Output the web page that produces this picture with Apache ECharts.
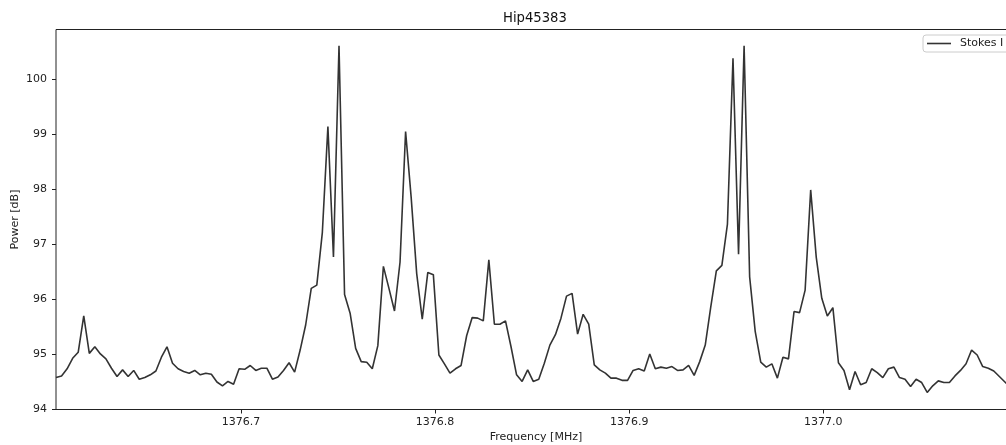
<!DOCTYPE html>
<html>
<head>
<meta charset="utf-8">
<script src="https://cdn.jsdelivr.net/npm/echarts@6/dist/echarts.min.js"></script>
<style>
html,body{margin:0;padding:0;background:#fff;overflow:hidden;width:1006px;height:445px;}
#chart{width:1016px;height:445px;}
</style>
</head>
<body>
<div id="chart"></div>
<script>
const chartTitle = 'Hip45383';
const seriesName = 'Stokes I';
const xAxisName = 'Frequency [MHz]';
const yAxisName = 'Power [dB]';
const xTickValues = [1376.7, 1376.8, 1376.9, 1377.0];
const yTickValues = [94, 95, 96, 97, 98, 99, 100];
const xRange = [1376.60469, 1377.09933];
const yRange = [94, 100.905];

const freqMHz = [
1376.60469,1376.60755,1376.61041,1376.61327,1376.61613,1376.61899,1376.62185,1376.62470,1376.62756,1376.63042,
1376.63328,1376.63614,1376.63900,1376.64186,1376.64472,1376.64758,1376.65044,1376.65330,1376.65616,1376.65901,
1376.66187,1376.66473,1376.66759,1376.67045,1376.67331,1376.67617,1376.67903,1376.68189,1376.68475,1376.68761,
1376.69047,1376.69333,1376.69618,1376.69904,1376.70190,1376.70476,1376.70762,1376.71048,1376.71334,1376.71620,
1376.71906,1376.72192,1376.72478,1376.72764,1376.73049,1376.73335,1376.73621,1376.73907,1376.74193,1376.74479,
1376.74765,1376.75051,1376.75337,1376.75623,1376.75909,1376.76195,1376.76481,1376.76766,1376.77052,1376.77338,
1376.77624,1376.77910,1376.78196,1376.78482,1376.78768,1376.79054,1376.79340,1376.79626,1376.79912,1376.80197,
1376.80483,1376.80769,1376.81055,1376.81341,1376.81627,1376.81913,1376.82199,1376.82485,1376.82771,1376.83057,
1376.83343,1376.83629,1376.83914,1376.84200,1376.84486,1376.84772,1376.85058,1376.85344,1376.85630,1376.85916,
1376.86202,1376.86488,1376.86774,1376.87060,1376.87345,1376.87631,1376.87917,1376.88203,1376.88489,1376.88775,
1376.89061,1376.89347,1376.89633,1376.89919,1376.90205,1376.90491,1376.90777,1376.91062,1376.91348,1376.91634,
1376.91920,1376.92206,1376.92492,1376.92778,1376.93064,1376.93350,1376.93636,1376.93922,1376.94208,1376.94493,
1376.94779,1376.95065,1376.95351,1376.95637,1376.95923,1376.96209,1376.96495,1376.96781,1376.97067,1376.97353,
1376.97639,1376.97925,1376.98210,1376.98496,1376.98782,1376.99068,1376.99354,1376.99640,1376.99926,1377.00212,
1377.00498,1377.00784,1377.01070,1377.01356,1377.01641,1377.01927,1377.02213,1377.02499,1377.02785,1377.03071,
1377.03357,1377.03643,1377.03929,1377.04215,1377.04501,1377.04787,1377.05073,1377.05358,1377.05644,1377.05930,
1377.06216,1377.06502,1377.06788,1377.07074,1377.07360,1377.07646,1377.07932,1377.08218,1377.08504,1377.08789,
1377.09075,1377.09361,1377.09647
];

const powerDb = [
94.58,94.61,94.74,94.93,95.04,95.70,95.02,95.14,95.01,94.92,
94.75,94.60,94.72,94.60,94.71,94.55,94.58,94.63,94.70,94.95,
95.14,94.84,94.74,94.69,94.66,94.71,94.63,94.66,94.64,94.50,
94.43,94.51,94.46,94.74,94.73,94.80,94.71,94.75,94.75,94.55,
94.59,94.71,94.85,94.68,95.08,95.54,96.20,96.26,97.22,99.14,
96.77,100.61,96.09,95.75,95.11,94.87,94.86,94.74,95.16,96.60,
96.20,95.79,96.68,99.05,97.86,96.47,95.64,96.49,96.45,94.99,
94.83,94.66,94.74,94.80,95.34,95.67,95.66,95.61,96.72,95.55,
95.55,95.61,95.14,94.63,94.51,94.72,94.51,94.55,94.84,95.17,
95.36,95.66,96.06,96.11,95.37,95.73,95.55,94.81,94.72,94.66,
94.57,94.57,94.53,94.53,94.71,94.74,94.70,95.01,94.74,94.77,
94.75,94.78,94.71,94.72,94.80,94.62,94.87,95.17,95.87,96.52,
96.62,97.37,100.38,96.82,100.61,96.41,95.42,94.86,94.77,94.83,
94.57,94.95,94.92,95.78,95.76,96.17,97.99,96.77,96.02,95.70,
95.85,94.85,94.71,94.36,94.69,94.45,94.49,94.74,94.67,94.58,
94.74,94.77,94.58,94.55,94.42,94.55,94.49,94.31,94.43,94.52,
94.49,94.49,94.61,94.71,94.83,95.08,94.99,94.78,94.75,94.70,
94.60,94.50,94.40
];

const FONT = 'DejaVu Sans';
const chart = echarts.init(document.getElementById('chart'), null, {renderer: 'canvas'});
const points = freqMHz.map((f, i) => [f, powerDb[i]]);

chart.setOption({
  animation: false,
  backgroundColor: '#ffffff',
  title: {
    text: chartTitle,
    left: 503,
    top: 12,
    padding: 0,
    textStyle: {fontFamily: FONT, fontSize: 13.2, fontWeight: 'normal', color: '#111'}
  },
  legend: {
    data: [seriesName],
    left: 923,
    top: 35,
    padding: [3, 6, 3, 4],
    itemWidth: 24,
    itemHeight: 14,
    icon: 'path://M0,0 L24,0 L24,1.6 L0,1.6 Z',
    symbolKeepAspect: true,
    backgroundColor: 'rgba(255,255,255,0.85)',
    borderColor: '#cccccc',
    borderWidth: 1,
    borderRadius: 3,
    textStyle: {fontFamily: FONT, fontSize: 11, color: '#222', padding: [0, 0, 0, 4]}
  },
  grid: {
    left: 56, right: 0, top: 29.5, bottom: 35.5,
    outerBoundsMode: 'none',
    containLabel: false,
    show: true, borderColor: '#222', borderWidth: 1, backgroundColor: 'transparent'
  },
  xAxis: {
    type: 'value',
    min: xRange[0], max: xRange[1],
    name: xAxisName,
    nameLocation: 'middle',
    nameGap: 22,
    nameMoveOverlap: false,
    nameTextStyle: {fontFamily: FONT, fontSize: 11, color: '#222'},
    axisLine: {show: false},
    axisTick: {show: true, length: 4, lineStyle: {color: '#222'}, customValues: xTickValues},
    axisLabel: {
      customValues: xTickValues,
      formatter: v => Number(v).toFixed(1),
      margin: 7,
      fontFamily: FONT, fontSize: 11, color: '#222'
    },
    splitLine: {show: false}
  },
  yAxis: {
    type: 'value',
    min: yRange[0], max: yRange[1],
    name: yAxisName,
    nameLocation: 'middle',
    nameGap: 35,
    nameMoveOverlap: false,
    nameTextStyle: {fontFamily: FONT, fontSize: 11, color: '#222'},
    axisLine: {show: false},
    axisTick: {show: true, length: 4, lineStyle: {color: '#222'}, customValues: yTickValues},
    axisLabel: {
      customValues: yTickValues,
      formatter: v => String(Math.round(v)),
      margin: 9,
      fontFamily: FONT, fontSize: 11, color: '#222'
    },
    splitLine: {show: false}
  },
  series: [{
    name: seriesName,
    type: 'line',
    data: points,
    symbol: 'none',
    clip: true,
    lineStyle: {color: '#333333', width: 1.6},
    itemStyle: {color: '#333333'}
  }]
});
</script>
</body>
</html>
